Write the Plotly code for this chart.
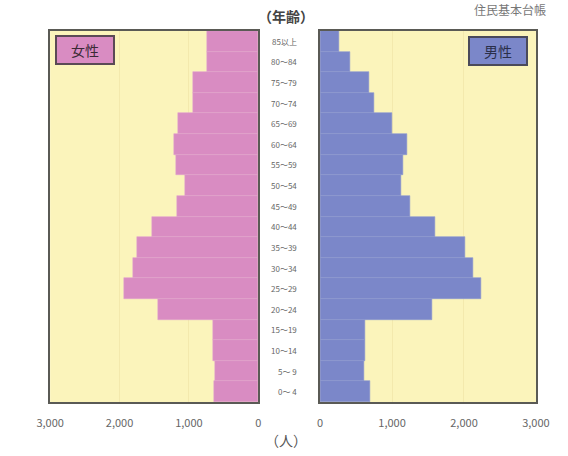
import plotly.graph_objects as go

# Age groups, from oldest (top) to youngest (bottom)
ages = ["85以上", "80～84", "75～79", "70～74", "65～69", "60～64", "55～59",
        "50～54", "45～49", "40～44", "35～39", "30～34", "25～29", "20～24",
        "15～19", "10～14", "5～ 9", "0～ 4"]

# Population by age group (persons)
female = [740, 740, 940, 940, 1150, 1210, 1190, 1060, 1170, 1530, 1740, 1810,
          1930, 1440, 650, 645, 625, 630]
male = [260, 415, 680, 745, 1005, 1215, 1160, 1120, 1250, 1600, 2020, 2120,
        2240, 1550, 625, 625, 610, 700]

tick_vals = [0, 1000, 2000, 3000]
tick_text = ["0", "1,000", "2,000", "3,000"]

FONT = "Noto Sans CJK JP"
PINK = "#d98cc2"
BLUE = "#7b87c9"
PANEL = "#fbf4bb"
GRID = "#f3e9ad"
BORDER = "#5a5a55"

fig = go.Figure()

fig.add_trace(go.Bar(
    y=ages, x=female, orientation="h", xaxis="x", yaxis="y",
    marker=dict(color=PINK, line=dict(color="#e2a3cf", width=0.6)),
    showlegend=False, hoverinfo="x+y",
))
fig.add_trace(go.Bar(
    y=ages, x=male, orientation="h", xaxis="x2", yaxis="y2",
    marker=dict(color=BLUE, line=dict(color="#8c97d2", width=0.6)),
    showlegend=False, hoverinfo="x+y",
))

x_common = dict(
    tickvals=tick_vals, ticktext=tick_text, ticks="",
    ticklabelstandoff=10,
    showgrid=True, gridcolor=GRID, gridwidth=1,
    zeroline=False, showline=True, mirror=True,
    linecolor=BORDER, linewidth=2,
    tickfont=dict(family=FONT, size=11, color="#666666"),
    fixedrange=True,
)
y_common = dict(
    categoryorder="array", categoryarray=ages[::-1],
    showticklabels=False, ticks="", showgrid=False, zeroline=False,
    showline=True, mirror=True, linecolor=BORDER, linewidth=2,
    fixedrange=True,
)

fig.update_layout(
    width=568, height=456,
    margin=dict(l=0, r=0, t=0, b=0),
    paper_bgcolor="white",
    bargap=0,
    xaxis=dict(domain=[38 / 568, 257 / 568], range=[3000, 0], anchor="y",
               **x_common),
    xaxis2=dict(domain=[322 / 568, 549 / 568], range=[0, 3000], anchor="y2",
                **x_common),
    yaxis=dict(domain=[1 - 402 / 456, 1 - 31 / 456], anchor="x", **y_common),
    yaxis2=dict(domain=[1 - 402 / 456, 1 - 31 / 456], anchor="x2", **y_common),
    plot_bgcolor=PANEL,
)

annotations = []
# Age-group labels in the centre column
for a in ages:
    annotations.append(dict(
        x=300 / 568, xref="paper", y=a, yref="y", text=a,
        showarrow=False, xanchor="right", yanchor="middle",
        font=dict(family=FONT, size=8, color="#666666"),
    ))

annotations += [
    dict(x=286 / 568, y=1 - 16 / 456, xref="paper", yref="paper",
         text="<b>（年齢）</b>", showarrow=False, xanchor="center",
         yanchor="middle",
         font=dict(family=FONT, size=14, color="#444444")),
    dict(x=286 / 568, y=1 - 440 / 456, xref="paper", yref="paper",
         text="（人）", showarrow=False, xanchor="center", yanchor="middle",
         font=dict(family=FONT, size=14, color="#555555")),
    dict(x=562 / 568, y=1 - 9 / 456, xref="paper", yref="paper",
         text="住民基本台帳", showarrow=False, xanchor="right", yanchor="middle",
         font=dict(family=FONT, size=12, color="#777777")),
    dict(x=75 / 568, y=1 - 50 / 456, xref="paper", yref="paper",
         text="女性", showarrow=False, xanchor="center", yanchor="middle",
         bgcolor=PINK, bordercolor="#5a4a55", borderwidth=2, borderpad=3,
         width=50, font=dict(family=FONT, size=14, color="#3a2a35")),
    dict(x=509 / 568, y=1 - 51 / 456, xref="paper", yref="paper",
         text="男性", showarrow=False, xanchor="center", yanchor="middle",
         bgcolor=BLUE, bordercolor="#4a4a5a", borderwidth=2, borderpad=3,
         width=50, font=dict(family=FONT, size=14, color="#2a2f4a")),
]
fig.update_layout(annotations=annotations)

fig.write_html("out.html")
